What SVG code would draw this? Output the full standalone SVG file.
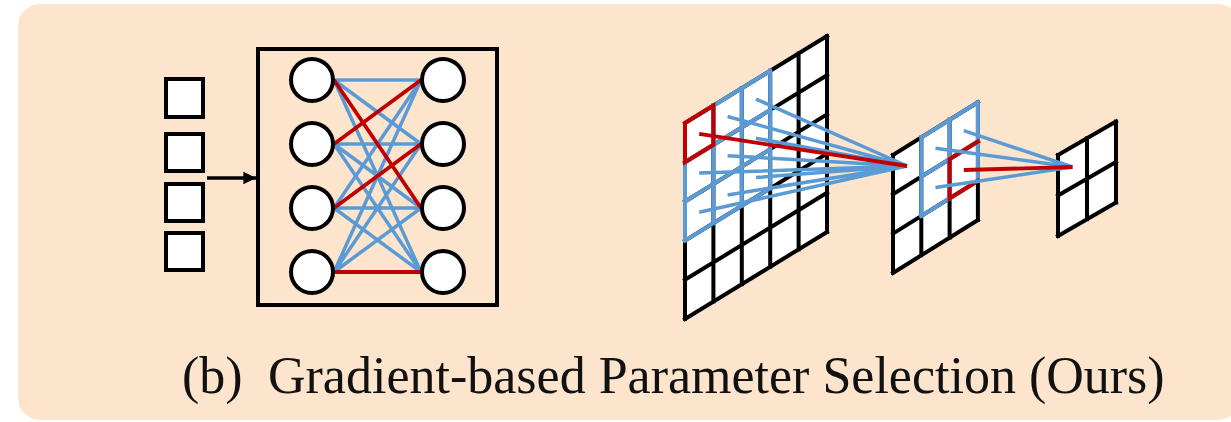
<svg xmlns="http://www.w3.org/2000/svg" width="1231" height="422" viewBox="0 0 1231 422">
<defs>
<style>
.bg{fill:#FDE4CD}
.sq{fill:#fff;stroke:#000;stroke-width:4}
.box{fill:none;stroke:#000;stroke-width:4}
.nd{fill:#fff;stroke:#000;stroke-width:4}
.gfill{fill:#fff;stroke:none}
.gk{fill:none;stroke:#000;stroke-width:4;stroke-linecap:square}
.gb{fill:none;stroke:#5B9BD5;stroke-width:4;stroke-linecap:square}
.gr{fill:none;stroke:#C00000;stroke-width:4;stroke-linecap:square}
.eb{fill:none;stroke:#5B9BD5;stroke-width:3.5}
.er{fill:none;stroke:#C00000;stroke-width:3.8}
.lbl{font-family:"Liberation Serif","Times New Roman",serif;font-size:52px;fill:#111}
</style>
<marker id="ah" viewBox="0 0 10 10" refX="10" refY="5" markerWidth="5" markerHeight="3.6" orient="auto" markerUnits="strokeWidth">
<path d="M0,0 L10,5 L0,10 z" fill="#000"/>
</marker>
</defs>
<rect class="bg" x="18" y="4" width="1222" height="416" rx="22"/>

<g id="inputs">
<rect class="sq" x="166" y="79" width="37" height="38"/>
<rect class="sq" x="166" y="134" width="37" height="37"/>
<rect class="sq" x="166" y="184" width="37" height="37"/>
<rect class="sq" x="166" y="233" width="37" height="37"/>
</g>

<g id="network">
<rect class="box" x="258" y="49" width="239" height="256"/>
<g id="nn-edges">
<path class="eb" d="M334,80 L421,80 M334,80 L421,144 M334,80 L421,272 M334,144 L421,144 M334,144 L421,208 M334,144 L421,272 M334,208 L421,80 M334,208 L421,208 M334,208 L421,272 M334,272 L421,80 M334,272 L421,144 M334,272 L421,208"/>
<path class="er" d="M334,144 L421,80 M334,208 L421,144 M334,80 L421,208 M334,272 L421,272"/>
</g>
<circle class="nd" cx="312" cy="80" r="21"/>
<circle class="nd" cx="312" cy="144" r="21"/>
<circle class="nd" cx="312" cy="208" r="21"/>
<circle class="nd" cx="312" cy="272" r="21"/>
<circle class="nd" cx="443" cy="80" r="21"/>
<circle class="nd" cx="443" cy="144" r="21"/>
<circle class="nd" cx="443" cy="208" r="21"/>
<circle class="nd" cx="443" cy="272" r="21"/>
</g>

<g id="grid-large">
<polygon class="gfill" points="685,123 827,36 827,232 685,319"/>
<path class="gk" d="M685,123 L685,319 M713.4,105.6 L713.4,301.6 M741.8,88.2 L741.8,284.2 M770.2,70.8 L770.2,266.8 M798.6,53.4 L798.6,249.4 M827,36 L827,232 M685,123 L827,36 M685,162.2 L827,75.2 M685,201.4 L827,114.4 M685,240.6 L827,153.6 M685,279.8 L827,192.8 M685,319 L827,232"/>
<path class="gb" d="M685,123 L685,240.6 M713.4,105.6 L713.4,223.2 M741.8,88.2 L741.8,205.8 M770.2,70.8 L770.2,188.4 M685,123 L770.2,70.8 M685,162.2 L770.2,110 M685,201.4 L770.2,149.2 M685,240.6 L770.2,188.4"/>
<polygon class="gr" points="685,123 713.4,105.6 713.4,144.8 685,162.2"/>
</g>

<g id="grid-middle">
<polygon class="gfill" points="893,155 977.9,102.2 977.9,220.1 893,272.9"/>
<path class="gk" d="M893,155 L893,272.9 M921.3,137.4 L921.3,255.3 M949.6,119.8 L949.6,237.7 M977.9,102.2 L977.9,220.1 M893,155 L977.9,102.2 M893,194.3 L977.9,141.5 M893,233.6 L977.9,180.8 M893,272.9 L977.9,220.1"/>
<path class="gb" d="M921.3,137.4 L921.3,216 M949.6,119.8 L949.6,198.4 M977.9,102.2 L977.9,180.8 M921.3,137.4 L977.9,102.2 M921.3,176.7 L977.9,141.5 M921.3,216 L977.9,180.8"/>
<path class="gr" d="M977.9,141.5 L949.6,159.1 L949.6,198.4 L977.9,180.8"/>
</g>

<g id="grid-small">
<polygon class="gfill" points="1058,155 1116,121.6 1116,202.6 1058,236"/>
<path class="gk" d="M1058,155 L1058,236 M1087,138.3 L1087,219.3 M1116,121.6 L1116,202.6 M1058,155 L1116,121.6 M1058,195.5 L1116,162.1 M1058,236 L1116,202.6"/>
</g>

<g id="connectors">
<line x1="207" y1="178" x2="256" y2="178" stroke="#000" stroke-width="3.5" marker-end="url(#ah)"/>
<path class="eb" d="M699.2,173.1 L907,166 M699.2,212.3 L907,166 M727.6,116.5 L907,166 M727.6,155.7 L907,166 M727.6,194.9 L907,166 M756,99.1 L907,166 M756,138.3 L907,166 M756,177.5 L907,166"/>
<path class="er" d="M699.2,133.9 L907,166"/>
<path class="eb" d="M935.5,148.3 L1072.5,167 M935.5,187.6 L1072.5,167 M963.8,130.7 L1072.5,167"/>
<path class="er" d="M963.8,170 L1072.5,167"/>
</g>

<text class="lbl" y="393"><tspan x="182">(b)</tspan><tspan x="268">Gradient-based Parameter Selection (Ours)</tspan></text>
</svg>
